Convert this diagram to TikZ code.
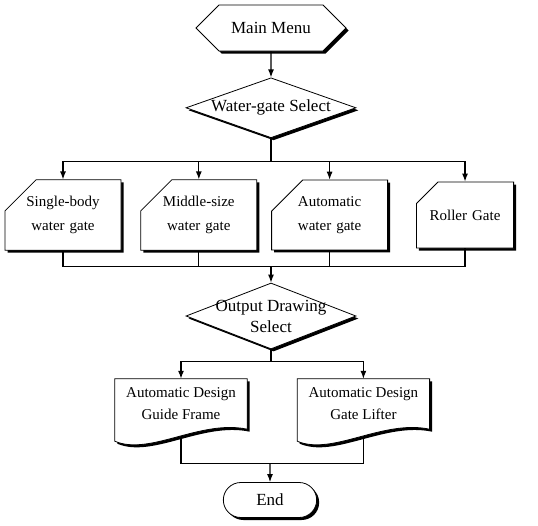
\documentclass[tikz,border=0pt]{standalone}
\usepackage{fontspec}
\setmainfont{Liberation Serif}
\usetikzlibrary{shapes.geometric, shapes.symbols, shapes.misc, arrows.meta, positioning, shadows, calc, backgrounds}
\tikzset{
  flowfont/.style={font=\fontsize{17}{21}\selectfont},
  boxfont/.style={font=\fontsize{15}{24}\selectfont},
  blackshadow/.style={drop shadow={shadow xshift=2.5pt, shadow yshift=-2.5pt, fill=black, opacity=1}},
  menubox/.style={signal, signal to=west and east, signal pointer angle=90, draw, fill=white, line width=0.8pt, minimum width=150pt, minimum height=46pt, flowfont, blackshadow},
  choicebox/.style={diamond, draw, fill=white, line width=0.8pt, minimum width=170pt, minimum height=60pt, inner sep=0pt, blackshadow},
  gatebox/.style={chamfered rectangle, chamfered rectangle corners=north west, chamfered rectangle xsep=18pt, chamfered rectangle ysep=13pt, draw, fill=white, line width=0.8pt, text width=80pt, inner xsep=0pt, minimum height=66pt, align=center, boxfont, blackshadow},
  docbox/.style={rectangle, minimum width=132pt, minimum height=50pt, align=center, font=\fontsize{15}{22}\selectfont},
  docline/.style={draw, fill=white, line width=0.8pt, blackshadow},
  endbox/.style={rounded rectangle, draw, fill=white, line width=0.8pt, minimum width=100pt, minimum height=35pt, flowfont, blackshadow},
  arrow/.style={-{Latex[length=8pt,width=6pt]}, line width=1.2pt},
  bus/.style={line width=1.2pt}
}
\begin{document}
\begin{tikzpicture}[x=1pt, y=-1pt]
  \useasboundingbox (0,0) rectangle (538,525);

  \node[menubox] (menu) at (271,28) {Main Menu};
  \node[choicebox, below=26pt of menu, label={[flowfont]center:Water-gate Select}] (wsel) {};

  \node[gatebox] (g1) at (63,215) {Single-body\\water gate};
  \node[gatebox, right=19pt of g1] (g2) {Middle-size\\water gate};
  \node[gatebox, right=14pt of g2] (g3) {Automatic\\water gate};
  \node[gatebox, right=28pt of g3] (g4) {Roller Gate};

  \node[choicebox, minimum height=66pt, label={[flowfont, align=center]center:Output Drawing\\Select}] (osel) at (271,316) {};

  \node[docbox] (d1) at (181,404) {Automatic Design\\Guide Frame};
  \node[docbox, right=50pt of d1] (d2) {Automatic Design\\Gate Lifter};

  \node[endbox] (endn) at (270,500) {End};

  % document outlines
  \begin{scope}[on background layer]
    \draw[docline] (d1.north west) -- (d1.north east) -- (d1.south east)
      .. controls +(-47,-10) and +(35,15) .. ($(d1.south west)+(0,12)$) -- cycle;
    \draw[docline] (d2.north west) -- (d2.north east) -- (d2.south east)
      .. controls +(-47,-10) and +(35,15) .. ($(d2.south west)+(0,12)$) -- cycle;
  \end{scope}

  % top part
  \draw[arrow] (menu) -- (wsel);
  \draw[arrow] (wsel.south) -- ++(0,23) -| (g1);
  \draw[arrow] (wsel.south) -- ++(0,23) -| (g2);
  \draw[arrow] (wsel.south) -- ++(0,23) -| (g3);
  \draw[arrow] (wsel.south) -- ++(0,23) -| (g4);

  % gates join
  \draw[bus] (g1.south) -- ++(0,16) coordinate (j1) -| (g4.south);
  \draw[bus] (g2.south) -- (g2.south |- j1);
  \draw[bus] (g3.south) -- (g3.south |- j1);
  \draw[arrow] (osel.north |- j1) -- (osel);

  % drawings
  \draw[arrow] (osel.south) -- ++(0,12) -| (d1);
  \draw[arrow] (osel.south) -- ++(0,12) -| (d2);
  \draw[bus] ($(d1.south)+(0,10)$) -- ($(d1.south)+(0,34)$) coordinate (j2) -| ($(d2.south)+(0,10)$);
  \draw[arrow] (endn.north |- j2) -- (endn);
\end{tikzpicture}
\end{document}
